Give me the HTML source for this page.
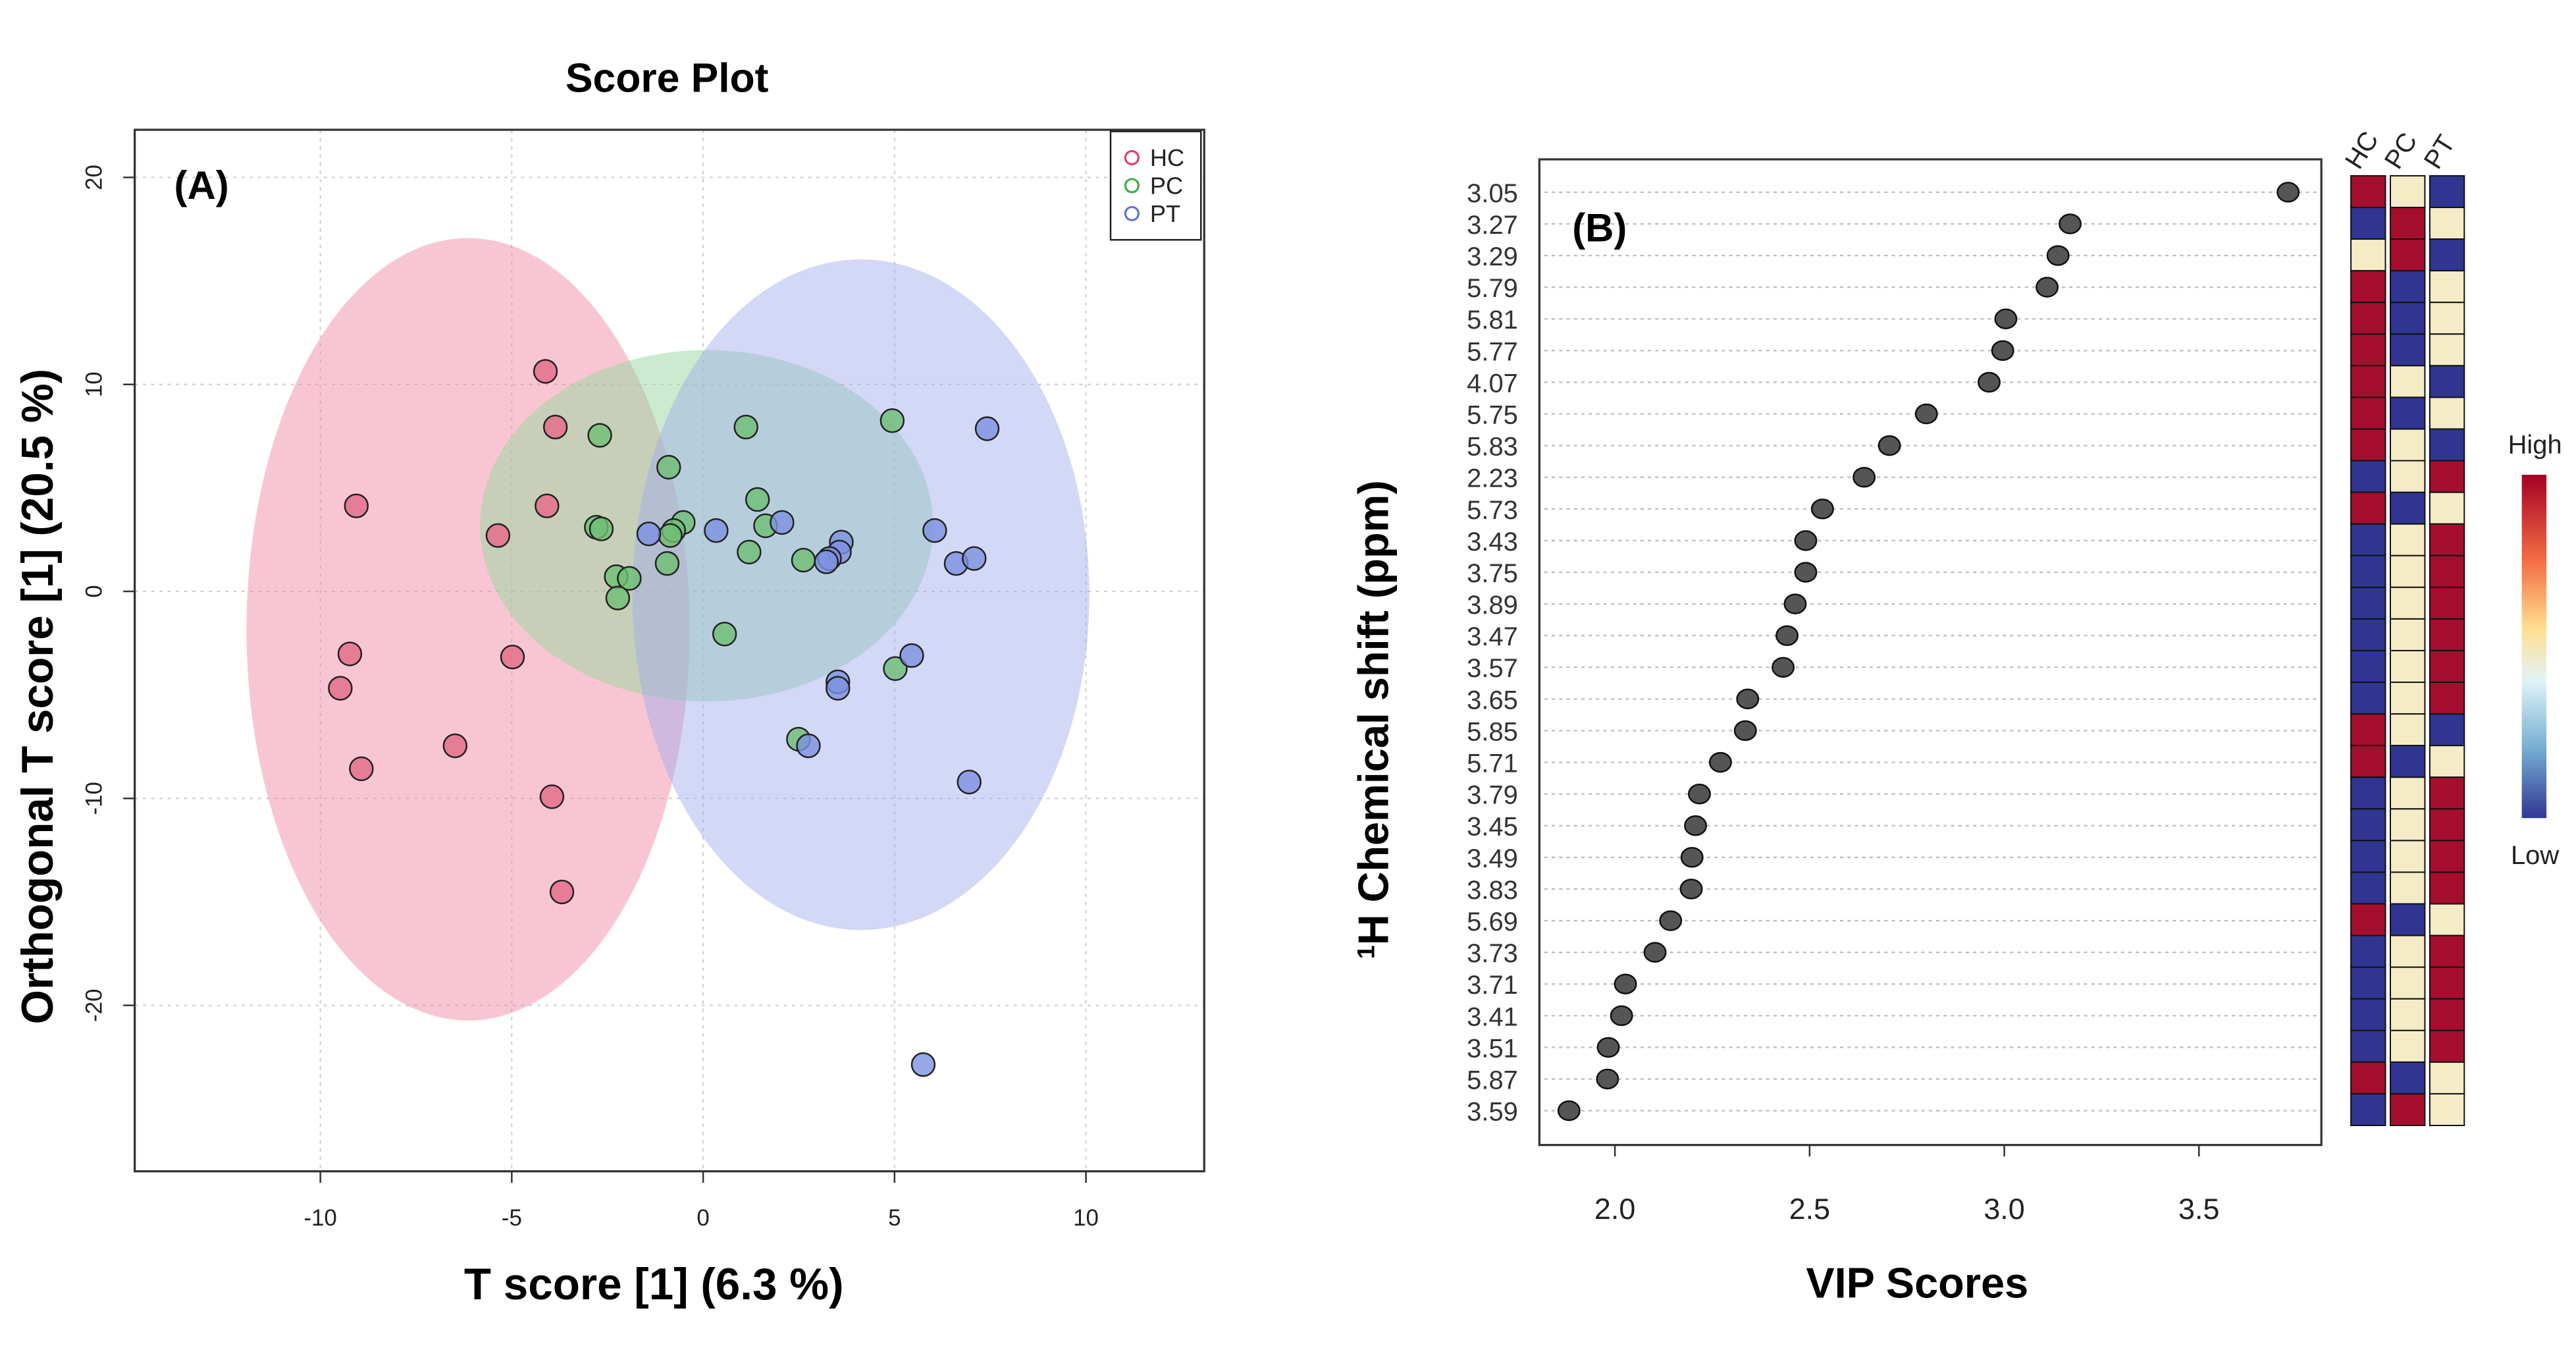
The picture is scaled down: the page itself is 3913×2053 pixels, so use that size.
<!DOCTYPE html>
<html><head><meta charset="utf-8"><style>
html,body{margin:0;padding:0;background:#fff;}
svg{display:block;}
text{font-family:"Liberation Sans",Arial,sans-serif;}
</style></head>
<body>
<svg id="fig" width="3913" height="2053" viewBox="0 0 1568 823" preserveAspectRatio="none" xmlns="http://www.w3.org/2000/svg">
<rect x="0" y="0" width="1568" height="823" fill="#fff"/>
<g id="panelA">
<text x="406" y="56" font-size="25" font-weight="bold" text-anchor="middle">Score Plot</text>
<g id="gridA"></g>
<g id="ellA"></g>
<g id="ptsA"></g>
<rect x="82" y="79" width="651" height="634" fill="none" stroke="#333" stroke-width="1.3"/>
<g id="axA"></g>
<text x="106" y="121" font-size="24" font-weight="bold">(A)</text>
<text x="398" y="791" font-size="27" font-weight="bold" text-anchor="middle">T score [1] (6.3 %)</text>
<text transform="translate(32,424) rotate(-90)" font-size="27" font-weight="bold" text-anchor="middle">Orthogonal T score [1] (20.5 %)</text>
<g>
<rect x="676" y="80" width="55" height="66" fill="#fff" stroke="#222" stroke-width="1"/>
<circle cx="689" cy="96" r="4" fill="none" stroke="#e0426a" stroke-width="1.3"/><text x="700" y="101" font-size="14.5" fill="#222">HC</text>
<circle cx="689" cy="113" r="4" fill="none" stroke="#3fae4a" stroke-width="1.3"/><text x="700" y="118" font-size="14.5" fill="#222">PC</text>
<circle cx="689" cy="130" r="4" fill="none" stroke="#5f74d8" stroke-width="1.3"/><text x="700" y="135" font-size="14.5" fill="#222">PT</text>
</g>
</g>
<g id="panelB">
<g id="gridB"></g>
<g id="ptsB"></g>
<rect x="937" y="97" width="476" height="600" fill="none" stroke="#333" stroke-width="1.3"/>
<g id="axB"></g>
<g id="heat"></g>
<text x="957" y="147" font-size="24" font-weight="bold">(B)</text>
<text x="1167" y="790" font-size="26" font-weight="bold" text-anchor="middle">VIP Scores</text>
<text transform="translate(845,438) rotate(-90)" font-size="26" font-weight="bold" text-anchor="middle"><tspan baseline-shift="super" font-size="15">1</tspan>H Chemical shift (ppm)</text>
<defs><linearGradient id="cb" x1="0" y1="0" x2="0" y2="1">
<stop offset="0" stop-color="#a50026"/><stop offset="0.25" stop-color="#f46d43"/><stop offset="0.45" stop-color="#fee090"/><stop offset="0.6" stop-color="#e0f3f8"/><stop offset="0.8" stop-color="#74add1"/><stop offset="1" stop-color="#313695"/></linearGradient></defs>
<rect x="1535" y="289" width="15" height="209" fill="url(#cb)"/>
<text x="1543" y="276" font-size="16" text-anchor="middle" fill="#222">High</text>
<text x="1543" y="526" font-size="16" text-anchor="middle" fill="#222">Low</text>
</g>
</svg>
<script>
// Score plot data
const xTicksA=[-10,-5,0,5,10];
const yTicksA=[20,10,0,-10,-20];
const hcX=[-4.12,-3.86,-9.06,-4.08,-5.36,-9.23,-4.98,-9.48,-6.48,-8.93,-3.95,-3.69];
const hcY=[10.63,7.94,4.13,4.13,2.70,-3.02,-3.17,-4.68,-7.46,-8.57,-9.92,-14.52];
const pcX=[-2.70,-0.9,4.94,1.12,1.42,1.63,-2.79,-2.66,-0.52,-0.77,-0.86,1.20,2.62,-2.27,-1.93,-0.94,-2.23,0.56,5.02,2.49];
const pcY=[7.54,6.0,8.25,7.94,4.44,3.17,3.10,3.02,3.33,2.94,2.70,1.90,1.51,0.71,0.63,1.35,-0.32,-2.06,-3.73,-7.14];
const ptX=[7.42,6.05,-1.42,0.34,2.06,3.61,3.56,3.30,3.22,6.61,7.08,5.45,3.52,3.52,2.75,6.95,5.75];
const ptY=[7.86,2.94,2.78,2.94,3.33,2.38,1.90,1.59,1.43,1.35,1.59,-3.10,-4.37,-4.68,-7.46,-9.21,-22.86];
const ellCX=[-6.14,0.09,4.12];
const ellCY=[-1.83,3.17,-0.16];
const ellRX=[5.79,5.92,5.97];
const ellRY=[18.9,8.49,16.2];
// VIP data
const vipLabels=["3.05","3.27","3.29","5.79","5.81","5.77","4.07","5.75","5.83","2.23","5.73","3.43","3.75","3.89","3.47","3.57","3.65","5.85","5.71","3.79","3.45","3.49","3.83","5.69","3.73","3.71","3.41","3.51","5.87","3.59"];
const vipValues=[3.729,3.169,3.138,3.110,3.004,2.996,2.961,2.800,2.705,2.640,2.533,2.490,2.490,2.463,2.442,2.432,2.341,2.335,2.271,2.217,2.207,2.198,2.196,2.143,2.103,2.027,2.017,1.983,1.981,1.882];
const xTicksB=[2.0,2.5,3.0,3.5];
const heatGroups=["HC","PC","PT"];
const heatHC=[2,0,1,2,2,2,2,2,2,0,2,0,0,0,0,0,0,2,2,0,0,0,0,2,0,0,0,0,2,0];
const heatPC=[1,2,2,0,0,0,1,0,1,1,0,1,1,1,1,1,1,1,0,1,1,1,1,0,1,1,1,1,0,2];
const heatPT=[0,1,0,1,1,1,0,1,0,2,1,2,2,2,2,2,2,0,1,2,2,2,2,1,2,2,2,2,1,1];

const NS="http://www.w3.org/2000/svg";
function mk(tag,attrs,parent){const e=document.createElementNS(NS,tag);for(const k in attrs)e.setAttribute(k,attrs[k]);parent.appendChild(e);return e;}
const sxA=v=>428+v*23.3, syA=v=>360-v*12.6;
const gridA=document.getElementById('gridA'), axA=document.getElementById('axA');
xTicksA.forEach(t=>{
  const l=mk('line',{x1:sxA(t),x2:sxA(t),y1:79,y2:713,stroke:'#ccc','stroke-width':0.8,'stroke-dasharray':'2,3'},gridA);
  
  
  mk('line',{x1:sxA(t),x2:sxA(t),y1:713,y2:720,stroke:'#333'},axA);
  const tx=mk('text',{x:sxA(t),y:746,'font-size':14,'text-anchor':'middle',fill:'#222'},axA);
  tx.textContent=t;
  
  
});
yTicksA.forEach(t=>{
  const l=mk('line',{x1:82,x2:733,y1:syA(t),y2:syA(t),stroke:'#ccc','stroke-width':0.8,'stroke-dasharray':'2,3'},gridA);
  
  
  mk('line',{x1:75,x2:82,y1:syA(t),y2:syA(t),stroke:'#333'},axA);
  const tx=mk('text',{transform:`translate(62,${syA(t)}) rotate(-90)`,'font-size':14,'text-anchor':'middle',fill:'#222'},axA);
  tx.textContent=t;
  
  
});
const ellFill=['rgba(240,135,160,0.48)','rgba(150,215,160,0.5)','rgba(160,170,235,0.46)'];
const ellNames=['hc-ellipse','pc-ellipse','pt-ellipse'];
const ellG=document.getElementById('ellA');
ellCX.forEach((c,i)=>{
  const e=mk('ellipse',{cx:sxA(c),cy:syA(ellCY[i]),rx:ellRX[i]*23.3,ry:ellRY[i]*12.6,fill:ellFill[i]},ellG);
  
  
});
const ptsA=document.getElementById('ptsA');
[[hcX,hcY,'rgba(228,110,140,0.85)','hc-point'],[pcX,pcY,'rgba(110,190,115,0.8)','pc-point'],[ptX,ptY,'rgba(125,145,225,0.8)','pt-point']].forEach(g=>{
  g[0].forEach((x,i)=>{
    const c=mk('circle',{cx:sxA(x),cy:syA(g[1][i]),r:7,fill:g[2],stroke:'#222','stroke-width':1},ptsA);
    
    
  });
});
// VIP
const sxB=v=>983+(v-2.0)*237, rowY=i=>117+i*19.28;
const gridB=document.getElementById('gridB'), axB=document.getElementById('axB'), ptsB=document.getElementById('ptsB');
vipLabels.forEach((lab,i)=>{
  const l=mk('line',{x1:940,x2:1410,y1:rowY(i),y2:rowY(i),stroke:'#bbb','stroke-width':0.9,'stroke-dasharray':'2,2.5'},gridB);
  
  
  const tx=mk('text',{x:924,y:rowY(i)+6,'font-size':16,'text-anchor':'end',fill:'#333'},axB);
  tx.textContent=lab;
  
  
  const d=mk('ellipse',{cx:sxB(vipValues[i]),cy:rowY(i),rx:6.5,ry:5.8,fill:'#555',stroke:'#111','stroke-width':1},ptsB);
  
  
});
xTicksB.forEach(t=>{
  mk('line',{x1:sxB(t),x2:sxB(t),y1:697,y2:704,stroke:'#333'},axB);
  const tx=mk('text',{x:sxB(t),y:742,'font-size':18,'text-anchor':'middle',fill:'#222'},axB);
  tx.textContent=t.toFixed(1);
  
  
});
const heat=document.getElementById('heat');
const heatCols=['#a50e2d','#f4ecc6','#2f3591'];
const colX=[1431,1455,1479], colW=21;
[heatHC,heatPC,heatPT].forEach((arr,c)=>{
  arr.forEach((v,i)=>{
    const r=mk('rect',{x:colX[c],y:107+i*19.27,width:colW,height:19.27,fill:heatCols[2-v],stroke:'#111','stroke-width':0.8},heat);
    
    
  });
  const tx=mk('text',{transform:`translate(${colX[c]+5},104) rotate(-58)`,'font-size':16,fill:'#222'},heat);
  tx.textContent=heatGroups[c];
  
  
});
</script>
</body></html>
